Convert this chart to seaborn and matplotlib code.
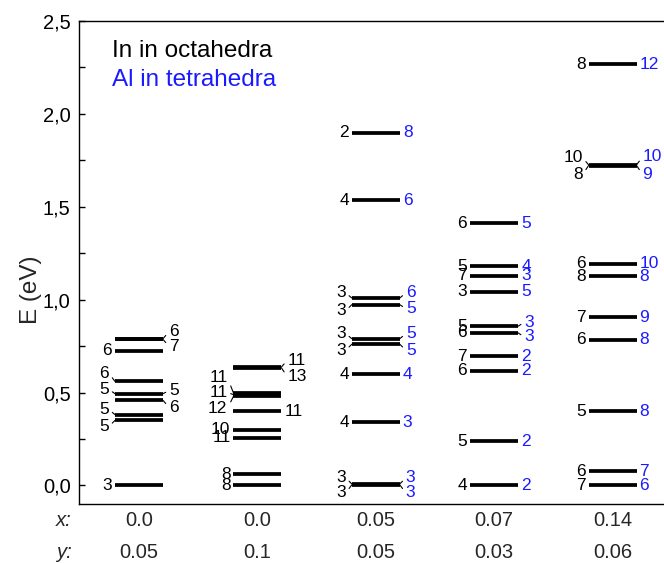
import matplotlib
matplotlib.use("Agg")
import matplotlib.pyplot as plt
import matplotlib.transforms as mtransforms
from matplotlib.ticker import MultipleLocator, FuncFormatter
import seaborn as sns
import pandas as pd

# ---------------- data ----------------
x_values = ["0.0", "0.0", "0.05", "0.07", "0.14"]
y_values = ["0.05", "0.1", "0.05", "0.03", "0.06"]

energy_c1 = [0.790, 0.786, 0.724, 0.560, 0.494, 0.458, 0.381, 0.350, 0.000]
oct_c1    = ["", "", "6", "6", "5", "", "5", "5", "3"]
tet_c1    = ["6", "7", "", "", "5", "6", "", "", ""]

energy_c2 = [0.637, 0.633, 0.499, 0.489, 0.479, 0.399, 0.300, 0.257, 0.059, 0.000]
oct_c2    = ["", "", "11", "11", "12", "", "10", "11", "8", "8"]
tet_c2    = ["11", "13", "", "", "", "11", "", "", "", ""]

energy_c3 = [1.898, 1.536, 1.009, 0.973, 0.790, 0.760, 0.598, 0.341, 0.008, 0.003]
oct_c3    = ["2", "4", "3", "3", "3", "3", "4", "4", "3", "3"]
tet_c3    = ["8", "6", "6", "5", "5", "5", "4", "3", "3", "3"]

energy_c4 = [1.410, 1.180, 1.130, 1.042, 0.857, 0.821, 0.695, 0.616, 0.239, 0.000]
oct_c4    = ["6", "5", "7", "3", "5", "6", "7", "6", "5", "4"]
tet_c4    = ["5", "4", "3", "5", "3", "3", "2", "2", "2", "2"]

energy_c5 = [2.267, 1.726, 1.722, 1.194, 1.126, 0.904, 0.785, 0.399, 0.077, 0.000]
oct_c5    = ["8", "10", "8", "6", "8", "7", "6", "5", "6", "7"]
tet_c5    = ["12", "10", "9", "10", "8", "9", "8", "8", "7", "6"]

legend_oct = "In in octahedra"
legend_tet = "Al in tetrahedra"

# ---------------- layout (label nudges in px, connectors drawn when nonzero) ----
nudge_oct = [
    [0, 0, 0, 8, 4, 0, 5, -6, 0],
    [0, 0, 15, 2, -12, 0, 0, 0, 0, 0],
    [0, 0, 5, -6, 5, -6, 0, 0, 6, -8],
    [0, 0, 0, 0, 0, 0, 0, 0, 0, 0],
    [0, 7, -9, 0, 0, 0, 0, 0, 0, 0],
]
nudge_tet = [
    [7, -7, 0, 0, 3, -7, 0, 0, 0],
    [7, -9, 0, 0, 0, 0, 0, 0, 0, 0],
    [0, 0, 5, -4, 5, -6, 0, 0, 6, -8],
    [0, 0, 0, 0, 4, -4, 0, 0, 0, 0],
    [0, 8, -9, 0, 0, 0, 0, 0, 0, 0],
]
blue = "#1a1aff"
right_colors = ["black", "black", blue, blue, blue]

energies = [energy_c1, energy_c2, energy_c3, energy_c4, energy_c5]
oct_labels = [oct_c1, oct_c2, oct_c3, oct_c4, oct_c5]
tet_labels = [tet_c1, tet_c2, tet_c3, tet_c4, tet_c5]

rows = []
for i, es in enumerate(energies):
    for e in es:
        rows.append({"col": i, "E": e})
df = pd.DataFrame(rows)

# ---------------- figure ----------------
sns.set_theme(style="ticks")
plt.rcParams["font.family"] = ["Liberation Sans", "DejaVu Sans"]

DPI = 100
W, H = 664, 563
fig = plt.figure(figsize=(W / DPI, H / DPI), dpi=DPI)
ax_left, ax_right, ax_top, ax_bottom = 79, 668, 21, 504
ax = fig.add_axes([ax_left / W, 1 - ax_bottom / H,
                   (ax_right - ax_left) / W, (ax_bottom - ax_top) / H])

col_spacing_px = 118.4
col0_px = 139
xmin = -(col0_px - ax_left) / col_spacing_px
xmax = xmin + (ax_right - ax_left) / col_spacing_px
ax.set_xlim(xmin, xmax)
ax.set_ylim(-0.1, 2.5)

line_len_px = 48
s_marker = (line_len_px * 72 / DPI) ** 2
sns.scatterplot(data=df, x="col", y="E", marker="_", s=s_marker,
                color="black", edgecolor="black", linewidth=2.7,
                legend=False, ax=ax, zorder=3)

half = (line_len_px / 2) / col_spacing_px
fs_lab = 12.5
px2pt = 72 / DPI

def place(i, e, text, nudge, side, color):
    if not text:
        return
    gap = 6 if nudge else 3
    if side == "left":
        xy = (i - half, e)
        dx, ha, rel = -gap, "right", (1, 0.5)
    else:
        xy = (i + half, e)
        dx, ha, rel = gap, "left", (0, 0.5)
    kw = {}
    if nudge:
        kw["arrowprops"] = dict(arrowstyle="-", color="black", lw=0.8,
                                shrinkA=0, shrinkB=0, relpos=rel)
    ax.annotate(text, xy=xy, xytext=(dx * px2pt, nudge * px2pt),
                textcoords="offset points", ha=ha, va="center",
                fontsize=fs_lab, color=color, **kw)

for i in range(5):
    for j, e in enumerate(energies[i]):
        place(i, e, oct_labels[i][j], nudge_oct[i][j], "left", "black")
        place(i, e, tet_labels[i][j], nudge_tet[i][j], "right", right_colors[i])

# axes styling
ax.spines["right"].set_visible(False)
for sp in ["left", "bottom", "top"]:
    ax.spines[sp].set_linewidth(1.0)
    ax.spines[sp].set_color("black")
ax.yaxis.set_major_locator(MultipleLocator(0.5))
ax.yaxis.set_minor_locator(MultipleLocator(0.25))
ax.yaxis.set_major_formatter(FuncFormatter(lambda v, p: f"{v:.1f}".replace(".", ",")))
ax.tick_params(axis="y", which="both", direction="in", length=4, width=1,
               labelsize=14.5, colors="black", pad=6)
ax.tick_params(axis="x", which="both", length=0, labelbottom=False)
ax.set_xticks(range(5))
ax.set_xlabel("")
ax.set_ylabel("E (eV)", fontsize=17.5)
ax.yaxis.set_label_coords((42 - ax_left) / (ax_right - ax_left),
                          (ax_bottom - 290) / (ax_bottom - ax_top))

# bottom composition rows
trans = mtransforms.blended_transform_factory(ax.transData, fig.transFigure)
fs_bot = 14.5
for i in range(5):
    ax.text(i, 1 - 521 / H, x_values[i], transform=trans, ha="center", va="center",
            fontsize=fs_bot, clip_on=False)
    ax.text(i, 1 - 552 / H, y_values[i], transform=trans, ha="center", va="center",
            fontsize=fs_bot, clip_on=False)
fig.text(64 / W, 1 - 521 / H, "x:", ha="center", va="center", fontsize=fs_bot, style="italic")
fig.text(64 / W, 1 - 552 / H, "y:", ha="center", va="center", fontsize=fs_bot, style="italic")

# legend texts
ax.text((112 - ax_left) / (ax_right - ax_left), (ax_bottom - 51) / (ax_bottom - ax_top),
        legend_oct, transform=ax.transAxes, ha="left", va="center", fontsize=17.5, color="black")
ax.text((112 - ax_left) / (ax_right - ax_left), (ax_bottom - 80) / (ax_bottom - ax_top),
        legend_tet, transform=ax.transAxes, ha="left", va="center", fontsize=17.5, color=blue)

fig.savefig("out.png", dpi=DPI)
